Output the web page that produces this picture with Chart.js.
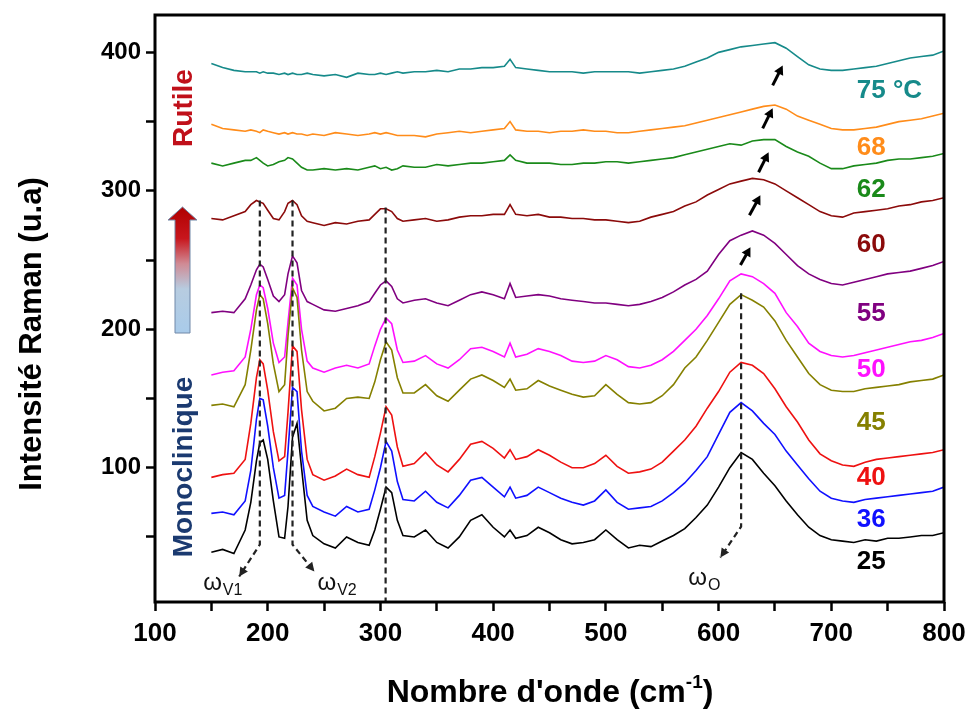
<!DOCTYPE html>
<html>
<head>
<meta charset="utf-8">
<script src="https://cdn.jsdelivr.net/npm/chart.js@4.4.1/dist/chart.umd.min.js"></script>
<style>
  html, body { margin: 0; padding: 0; background: #fff; }
  #wrap { width: 971px; height: 710px; }
</style>
</head>
<body>
<div id="wrap"><canvas id="chart" width="971" height="710"></canvas></div>
<script>
// Nombre d'onde (cm-1), grille commune à tous les spectres
const WAVENUMBERS = [150,160,170,180,185,190,193,196,200,205,
  210,215,218,222,226,230,235,240,250,260,
  270,280,290,295,300,305,310,315,320,330,
  340,350,360,370,380,390,400,410,415,420,
  430,440,450,460,470,480,490,500,510,520,
  530,540,550,560,570,580,590,600,610,620,
  630,640,650,660,670,680,690,700,710,720,
  730,740,750,760,770,780,790,800];

// Intensités (spectres décalés verticalement)
const T25 = [39,41,38,55,75,105,118,120,106,76,
  50,49,72,122,132,100,62,51,45,42,
  50,46,44,55,70,86,82,62,51,50,
  55,46,42,50,62,66,57,50,55,49,
  51,57,53,48,45,46,48,55,48,42,
  44,43,47,51,56,64,73,86,100,111,
  106,96,87,76,66,57,51,48,47,46,
  48,47,49,49,50,51,51,53];
const T36 = [67,68,66,76,98,135,150,149,130,100,
  78,80,112,158,155,112,80,72,68,65,
  72,68,70,84,100,119,112,90,77,76,
  83,75,71,80,91,93,86,79,86,78,
  80,86,82,78,75,73,76,84,75,70,
  71,72,76,82,89,98,108,124,140,147,
  141,132,124,112,102,92,83,78,76,75,
  77,78,79,80,81,82,83,86];
const T40 = [93,95,96,106,132,165,178,175,156,126,
  105,108,140,188,184,142,106,95,91,94,
  99,95,93,108,125,144,138,115,101,103,
  111,102,97,106,117,119,114,107,113,106,
  108,113,109,104,100,100,103,109,101,96,
  97,99,104,112,120,130,143,155,169,176,
  174,168,157,144,133,120,110,105,102,101,
  104,106,107,108,109,110,111,113];
const T45 = [145,146,144,160,185,214,225,222,204,175,
  155,160,195,230,223,185,155,148,141,143,
  150,151,150,162,178,191,185,165,154,154,
  160,152,148,156,164,167,163,158,164,156,
  157,163,159,156,153,151,152,160,153,147,
  146,147,152,160,172,180,192,205,218,225,
  221,216,206,192,180,168,160,156,155,155,
  157,158,159,160,162,163,164,167];
const T50 = [167,169,170,180,200,225,232,230,215,190,
  176,180,205,237,232,200,177,172,169,172,
  174,172,175,188,200,208,204,185,176,177,
  181,175,172,178,186,187,184,180,190,180,
  182,186,184,181,177,176,177,181,178,173,
  172,174,178,184,192,200,210,222,235,240,
  238,233,226,212,202,190,184,181,180,181,
  183,185,187,189,191,192,194,197];
const T55 = [212,213,212,222,232,243,247,245,236,224,
  220,225,240,253,248,228,220,218,214,213,
  215,217,220,226,232,235,231,222,219,221,
  222,219,217,221,225,227,225,222,233,223,
  224,225,224,222,221,220,219,219,218,217,
  218,220,223,227,232,236,242,254,264,268,
  271,268,262,254,246,240,236,233,232,234,
  236,238,240,241,242,244,246,249];
const T60 = [280,279,282,285,290,293,292,291,286,280,
  279,285,291,293,290,282,278,277,275,277,
  276,278,279,283,287,287,285,280,278,279,
  280,278,279,281,282,282,283,283,290,283,
  282,283,281,281,280,280,279,279,278,277,
  278,281,283,285,289,292,297,301,305,307,
  309,308,305,300,295,290,285,282,281,284,
  285,286,287,289,290,292,293,295];
const T62 = [320,318,320,322,322,324,322,320,318,319,
  321,322,324,323,320,317,315,315,316,315,
  316,315,317,318,316,317,315,316,318,317,
  317,319,318,319,320,320,321,322,326,322,
  320,320,320,319,319,320,320,321,321,320,
  321,322,323,324,326,328,330,332,334,333,
  336,337,337,332,328,325,320,316,316,318,
  319,320,322,323,323,324,325,327];
const T68 = [348,345,344,343,344,343,342,344,343,342,
  341,342,341,342,341,341,340,341,340,342,
  341,340,341,342,341,342,341,340,340,340,
  339,341,342,343,342,343,344,345,350,344,
  343,343,342,343,343,344,343,343,342,342,
  343,344,345,346,347,349,351,353,355,357,
  359,361,362,359,354,351,348,345,344,344,
  345,346,348,350,351,352,354,356];
const T75 = [392,389,387,386,386,386,385,386,385,385,
  384,385,384,385,384,384,385,384,383,384,
  382,385,384,384,385,384,385,386,385,386,
  386,387,386,388,388,389,389,390,395,389,
  388,387,386,386,386,385,386,386,386,386,
  385,386,387,388,390,393,396,400,402,404,
  405,406,407,403,397,391,388,387,387,388,
  389,390,392,394,396,397,398,401];

const SERIES = [T25, T36, T40, T45, T50, T55, T60, T62, T68, T75];
const TEMP_LABELS = ["25", "36", "40", "45", "50", "55", "60", "62", "68", "75 °C"];
const COLORS = ["#000000", "#1010ff", "#ee1111", "#858000", "#ff10ff",
                "#800080", "#8b0a0a", "#1a8a1a", "#ff8c1a", "#168a8a"];

// Graduations des axes (majeures étiquetées, mineures sans texte)
const X_TICKS = [100,150,200,250,300,350,400,450,500,550,600,650,700,750,800];
const Y_TICKS = [50,100,150,200,250,300,350,400];

const FONT = "'Liberation Sans', Arial, sans-serif";

const datasets = SERIES.map((vals, i) => ({
  label: TEMP_LABELS[i],
  data: WAVENUMBERS.map((w, k) => ({ x: w, y: vals[k] })),
  borderColor: COLORS[i],
  borderWidth: 1.6,
  pointRadius: 0,
  tension: 0,
  fill: false
}));

function arrowHead(ctx, x0, y0, x1, y1, len, half) {
  const ang = Math.atan2(y1 - y0, x1 - x0);
  ctx.beginPath();
  ctx.moveTo(x1, y1);
  ctx.lineTo(x1 - len * Math.cos(ang) + half * Math.sin(ang), y1 - len * Math.sin(ang) - half * Math.cos(ang));
  ctx.lineTo(x1 - len * Math.cos(ang) - half * Math.sin(ang), y1 - len * Math.sin(ang) + half * Math.cos(ang));
  ctx.closePath();
  ctx.fill();
}

// Tout ce qui n'est pas une courbe : cadre, titres, repères pointillés, flèches, étiquettes
const decor = {
  id: "decor",
  afterDatasetsDraw(chart) {
    const { ctx, chartArea: a, scales: { x, y } } = chart;
    const X = v => x.getPixelForValue(v);
    const Y = v => y.getPixelForValue(v);
    ctx.save();

    // repères pointillés des modes
    ctx.strokeStyle = "#222";
    ctx.fillStyle = "#222";
    ctx.lineWidth = 2.2;
    ctx.setLineDash([6, 4]);
    const guides = [
      { w: 193, top: 293, bot: 44.5, to: [174.7, 21.4] },
      { w: 222, top: 293, bot: 44.5, to: [241.4, 25] },
      { w: 304.6, top: 288, bot: null },
      { w: 620, top: 226, bot: 57.5, to: [601.6, 35.1] }
    ];
    guides.forEach(g => {
      ctx.beginPath();
      ctx.moveTo(X(g.w), Y(g.top));
      ctx.lineTo(X(g.w), g.bot === null ? a.bottom : Y(g.bot));
      if (g.to) ctx.lineTo(X(g.to[0]), Y(g.to[1]));
      ctx.stroke();
    });
    ctx.setLineDash([]);
    guides.filter(g => g.to).forEach(g => {
      arrowHead(ctx, X(g.w), Y(g.bot), X(g.to[0]), Y(g.to[1]), 9, 4.5);
    });

    // libellés ω
    const omega = (w, v, sub) => {
      ctx.fillStyle = "#111";
      ctx.textAlign = "left";
      ctx.textBaseline = "alphabetic";
      ctx.font = `24px ${FONT}`;
      ctx.fillText("ω", X(w), Y(v));
      const wd = ctx.measureText("ω").width;
      ctx.font = `16px ${FONT}`;
      ctx.fillText(sub, X(w) + wd + 1, Y(v) + 5);
    };
    omega(142.7, 12, "V1");
    omega(244.1, 12, "V2");
    omega(573.2, 15.6, "O");

    // petites flèches noires (déplacement du mode ωO)
    ctx.strokeStyle = "#000";
    ctx.fillStyle = "#000";
    ctx.lineWidth = 3;
    const shifts = [
      [619.4, 246.4, 628.3, 259.3],
      [627.4, 282.4, 637.1, 296.8],
      [635.5, 313.4, 644.4, 327.8],
      [639.1, 345.1, 648.0, 359.6],
      [648.0, 376.2, 656.9, 390.6]
    ];
    shifts.forEach(([w0, v0, w1, v1]) => {
      const x0 = X(w0), y0 = Y(v0), x1 = X(w1), y1 = Y(v1);
      const ang = Math.atan2(y1 - y0, x1 - x0);
      ctx.beginPath();
      ctx.moveTo(x0, y0);
      ctx.lineTo(x1 - 6 * Math.cos(ang), y1 - 6 * Math.sin(ang));
      ctx.stroke();
      arrowHead(ctx, x0, y0, x1, y1, 9, 5);
    });

    // températures à droite
    const LABEL_Y = [32.2, 62.5, 92.8, 132.4, 170.7, 211, 260.8, 300.4, 331.4, 372.5];
    ctx.font = `bold 26px ${FONT}`;
    ctx.textAlign = "left";
    ctx.textBaseline = "middle";
    TEMP_LABELS.forEach((t, i) => {
      ctx.fillStyle = COLORS[i];
      ctx.fillText(t, X(722.6), Y(LABEL_Y[i]));
    });

    // flèche dégradée monoclinique -> rutile
    const grad = ctx.createLinearGradient(0, 333, 0, 207);
    grad.addColorStop(0, "#a9cbea");
    grad.addColorStop(0.35, "#b7cce0");
    grad.addColorStop(0.55, "#d08a94");
    grad.addColorStop(0.75, "#c8161d");
    grad.addColorStop(1, "#b00000");
    ctx.beginPath();
    ctx.moveTo(175, 333);
    ctx.lineTo(175, 220);
    ctx.lineTo(168, 220);
    ctx.lineTo(182.5, 207);
    ctx.lineTo(197, 220);
    ctx.lineTo(190, 220);
    ctx.lineTo(190, 333);
    ctx.closePath();
    ctx.fillStyle = grad;
    ctx.fill();
    ctx.strokeStyle = "#7088a8";
    ctx.lineWidth = 1;
    ctx.stroke();

    // phases
    ctx.font = `bold 28px ${FONT}`;
    ctx.textAlign = "center";
    ctx.textBaseline = "middle";
    [["Rutile", "#c0101a", 108], ["Monoclinique", "#1b3a70", 467]].forEach(([t, c, cy]) => {
      ctx.save();
      ctx.translate(184, cy);
      ctx.rotate(-Math.PI / 2);
      ctx.fillStyle = c;
      ctx.fillText(t, 0, 0);
      ctx.restore();
    });

    ctx.restore();
  },
  afterDraw(chart) {
    const { ctx, chartArea: a } = chart;
    ctx.save();
    // cadre complet
    ctx.strokeStyle = "#000";
    ctx.lineWidth = 3;
    ctx.strokeRect(a.left, a.top, a.right - a.left, a.bottom - a.top);

    // titre axe Y
    ctx.fillStyle = "#000";
    ctx.font = `bold 31px ${FONT}`;
    ctx.textAlign = "center";
    ctx.textBaseline = "middle";
    ctx.save();
    ctx.translate(32, 334);
    ctx.rotate(-Math.PI / 2);
    ctx.fillText("Intensité Raman (u.a)", 0, 0);
    ctx.restore();

    // titre axe X avec exposant
    const main = "Nombre d'onde (cm";
    ctx.font = `bold 32px ${FONT}`;
    const w1 = ctx.measureText(main).width;
    const w3 = ctx.measureText(")").width;
    ctx.font = `bold 19px ${FONT}`;
    const w2 = ctx.measureText("-1").width;
    let xs = 550 - (w1 + w2 + w3) / 2;
    ctx.textAlign = "left";
    ctx.textBaseline = "alphabetic";
    ctx.font = `bold 32px ${FONT}`;
    ctx.fillText(main, xs, 702);
    ctx.font = `bold 19px ${FONT}`;
    ctx.fillText("-1", xs + w1, 688);
    ctx.font = `bold 32px ${FONT}`;
    ctx.fillText(")", xs + w1 + w2, 702);
    ctx.restore();
  }
};

new Chart(document.getElementById("chart"), {
  type: "line",
  data: { datasets },
  plugins: [decor],
  options: {
    responsive: false,
    animation: false,
    devicePixelRatio: 1,
    layout: { padding: { top: 15, right: 27, left: 0, bottom: 0 } },
    plugins: { legend: { display: false }, tooltip: { enabled: false } },
    scales: {
      x: {
        type: "linear",
        min: 100,
        max: 800,
        afterFit: s => { s.height = 108; s.paddingLeft = 0; s.paddingRight = 0; },
        afterBuildTicks: s => { s.ticks = X_TICKS.map(v => ({ value: v })); },
        border: { display: false },
        grid: { drawOnChartArea: false, drawTicks: true, tickLength: 9, tickWidth: 2.5, tickColor: "#000" },
        ticks: {
          autoSkip: false,
          maxRotation: 0,
          padding: 7,
          color: "#000",
          font: { family: FONT, size: 26, weight: "bold" },
          callback: v => (v % 100 === 0 ? v : "")
        }
      },
      y: {
        min: 3,
        max: 427,
        afterFit: s => { s.width = 155; s.paddingTop = 0; s.paddingBottom = 0; },
        afterBuildTicks: s => { s.ticks = Y_TICKS.map(v => ({ value: v })); },
        border: { display: false },
        grid: { drawOnChartArea: false, drawTicks: true, tickLength: 9, tickWidth: 2.5, tickColor: "#000" },
        ticks: {
          autoSkip: false,
          padding: 5,
          color: "#000",
          font: { family: FONT, size: 24, weight: "bold" },
          callback: v => (v % 100 === 0 ? v : "")
        }
      }
    }
  }
});
</script>
</body>
</html>
